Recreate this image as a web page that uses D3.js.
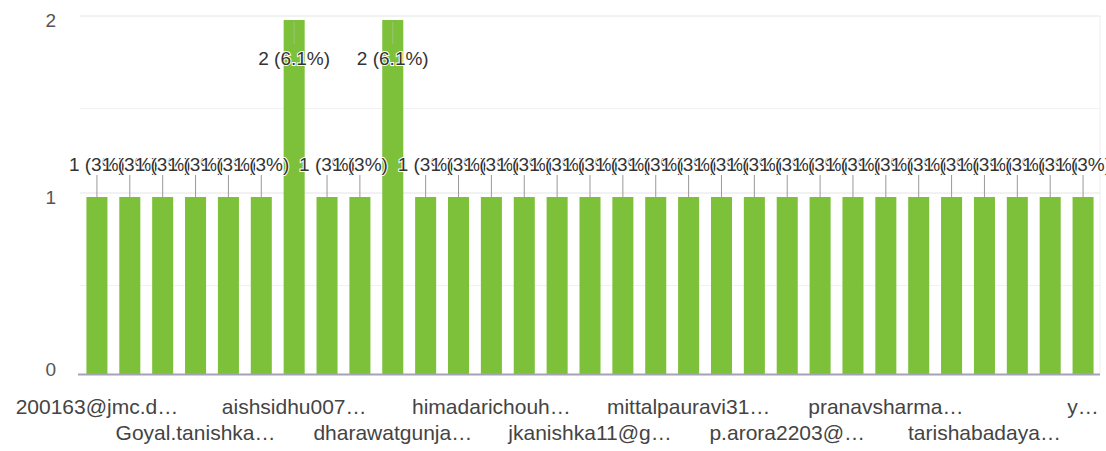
<!DOCTYPE html>
<html>
<head>
<meta charset="utf-8">
<script src="https://cdn.jsdelivr.net/npm/d3@7"></script>
<style>
  body { margin: 0; background: #fff; }
  svg text { font-family: "Liberation Sans", Arial, sans-serif; }
</style>
</head>
<body>
<svg class="chart"></svg>
<script>
// responses per person (31 bars)
let counts = [1, 1, 1, 1, 1, 1, 2, 1, 1, 2, 1, 1, 1, 1, 1, 1,
              1, 1, 1, 1, 1, 1, 1, 1, 1, 1, 1, 1, 1, 1, 1];
// only every third category label is shown on the axis
let tickIndex = [0, 3, 6, 9, 12, 15, 18, 21, 24, 27, 30];
let tickLabels = ["200163@jmc.d…", "Goyal.tanishka…", "aishsidhu007…", "dharawatgunja…",
                  "himadarichouh…", "jkanishka11@g…", "mittalpauravi31…", "p.arora2203@…",
                  "pranavsharma…", "tarishabadaya…", "y…"];
let yTicks = [0, 1, 2];
let yMinor = [0.5, 1.5];

let width = 1106, height = 451;
let total = d3.sum(counts);

let svg = d3.select(".chart")
  .attr("width", width)
  .attr("height", height);

let x = d3.scaleBand()
  .domain(d3.range(counts.length))
  .range([80.5, 1099.5])
  .paddingInner(0.36)
  .paddingOuter(0.18);

let y = d3.scaleLinear()
  .domain([0, 2])
  .range([374, 20]);

// gridlines
svg.append("g")
  .selectAll("line.minor")
  .data(yMinor)
  .join("line")
  .attr("x1", 80).attr("x2", 1100)
  .attr("y1", d => y(d)).attr("y2", d => y(d))
  .style("stroke", "#f1f1f1");

svg.append("g")
  .selectAll("line.major")
  .data(yTicks.filter(d => d > 0))
  .join("line")
  .attr("x1", 80).attr("x2", 1100)
  .attr("y1", d => y(d) - 4).attr("y2", d => y(d) - 4)
  .style("stroke", "#e4e4e4");

svg.append("line")
  .attr("x1", 1100).attr("x2", 1100)
  .attr("y1", y(2) - 4).attr("y2", y(0))
  .style("stroke", "#eeeeee");

// y axis labels
let yAxis = svg.append("g")
  .attr("transform", "translate(56,0)")
  .call(d3.axisLeft(y).tickValues(yTicks).tickSize(0).tickPadding(0).tickFormat(d3.format("d")));
yAxis.select(".domain").remove();
yAxis.selectAll("text")
  .style("font-size", "19px")
  .style("fill", "#555")
  .attr("dy", d => d === 0 ? "0.1em" : "0.32em");

// bars
svg.append("g")
  .selectAll("rect")
  .data(counts)
  .join("rect")
  .attr("x", (d, i) => x(i))
  .attr("y", d => y(d))
  .attr("width", x.bandwidth())
  .attr("height", d => y(0) - y(d))
  .style("fill", "#7dc13a");

// baseline
svg.append("line")
  .attr("x1", 78).attr("x2", 1100)
  .attr("y1", y(0) + 0.5).attr("y2", y(0) + 0.5)
  .style("stroke", "#a3a3b5")
  .style("stroke-width", 2);

// annotations: "n (p%)" with a stem
let pct = d => {
  let p = Math.round(d / total * 1000) / 10;
  return d + " (" + (p % 1 === 0 ? p.toFixed(0) : p.toFixed(1)) + "%)";
};
let inside = d => y(d) - 45 < 10;

let ann = svg.append("g");
ann.selectAll("line")
  .data(counts)
  .join("line")
  .attr("x1", (d, i) => x(i) + x.bandwidth() / 2)
  .attr("x2", (d, i) => x(i) + x.bandwidth() / 2)
  .attr("y1", d => inside(d) ? y(d) + 2 : y(d) - 22)
  .attr("y2", d => inside(d) ? y(d) + 24 : y(d))
  .style("stroke", d => inside(d) ? "#9fc27a" : "#999")
  .style("stroke-width", 1);

ann.selectAll("text")
  .data(counts)
  .join("text")
  .attr("x", (d, i) => x(i) + x.bandwidth() / 2)
  .attr("y", d => inside(d) ? y(d) + 45 : y(d) - 26)
  .attr("text-anchor", "middle")
  .style("font-size", "19px")
  .style("fill", "#333")
  .style("stroke", "#fff")
  .style("stroke-width", 2)
  .style("paint-order", "stroke")
  .text(pct);

// x axis labels, staggered on two rows
let xAxis = svg.append("g")
  .attr("transform", "translate(0," + y(0) + ")")
  .call(d3.axisBottom(x).tickValues(tickIndex).tickSize(0)
    .tickFormat(d => tickLabels[tickIndex.indexOf(d)]));
xAxis.select(".domain").remove();
xAxis.selectAll("text")
  .style("font-size", "21px")
  .style("fill", "#444")
  .attr("y", (d, i) => i % 2 === 0 ? 40 : 66)
  .attr("dy", 0);
</script>
</body>
</html>
